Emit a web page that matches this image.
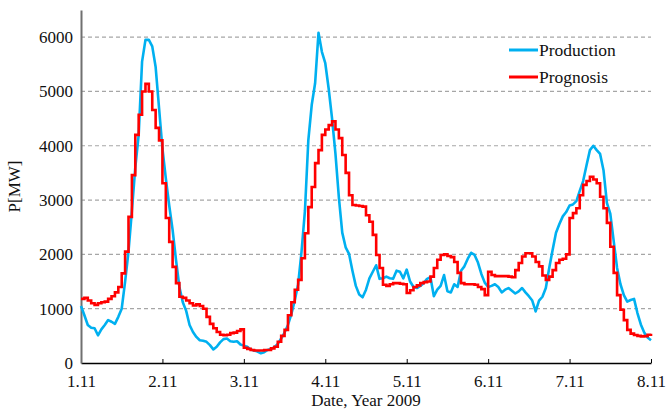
<!DOCTYPE html>
<html>
<head>
<meta charset="utf-8">
<script src="https://cdn.jsdelivr.net/npm/d3@7"></script>
<style>
  body { margin: 0; background: #fff; }
  text { font-family: "Liberation Serif", "Times New Roman", serif; }
</style>
</head>
<body>
<div id="chart"></div>
<script>
const width = 666;
const height = 409;
const margin = { top: 10, right: 15, bottom: 46, left: 81 };

// hourly values in MW, 1.11.2009 00:00 -> 8.11.2009 00:00
const production = [
  1050, 880, 700, 650, 640, 510, 620, 700, 790, 760, 720, 850, 1000, 1500, 2050, 2800, 3600, 4200, 5550, 5950, 5950, 5830, 5450, 4700,
  3950, 3400, 2900, 2450, 1900, 1400, 1120, 960, 700, 570, 480, 420, 410, 390, 330, 250, 300, 380, 440, 450, 400, 390, 400, 340,
  320, 300, 250, 230, 210, 180, 200, 240, 260, 290, 350, 450, 560, 700, 900, 1150, 1450, 2050, 2800, 4100, 4750, 5150, 6080, 5730,
  5520, 5050, 4500, 3850, 3050, 2400, 2130, 2010, 1700, 1420, 1260, 1210, 1350, 1560, 1680, 1800, 1550, 1560, 1590, 1560, 1550, 1700, 1680, 1560,
  1720, 1500, 1400, 1380, 1420, 1470, 1550, 1580, 1230, 1350, 1420, 1620, 1320, 1300, 1450, 1400, 1700, 1780, 1920, 2030, 1990, 1850, 1640, 1480,
  1400, 1420, 1450, 1400, 1300, 1350, 1380, 1330, 1280, 1320, 1380, 1300, 1230, 1150, 950, 1150, 1220, 1380, 1750, 2080, 2400, 2560, 2700, 2780,
  2900, 2920, 2980, 3170, 3350, 3640, 3920, 4000, 3920, 3850, 3550, 2950, 2750, 2250, 1750, 1450, 1250, 1130, 1160, 1180, 920, 710, 560, 470, 420
];

const prognosis = [
  1180, 1200, 1150, 1100, 1070, 1100, 1120, 1130, 1180, 1230, 1300, 1400, 1650, 2050, 2690, 3460, 4200, 4570, 5000, 5140, 5000, 4660, 4330, 4100,
  3310, 2670, 2230, 1770, 1470, 1220, 1200, 1150, 1100, 1060, 1080, 1050, 1000, 850, 720, 640, 570, 520, 510, 520, 550, 560, 590, 620,
  280, 260, 240, 230, 230, 230, 240, 240, 270, 300, 390, 500, 610, 880, 1120, 1350, 1530, 1930, 2390, 2870, 3240, 3680, 3920, 4200,
  4300, 4380, 4450, 4300, 4140, 3830, 3500, 3090, 2910, 2900, 2890, 2880, 2720, 2600, 2360, 1990, 1750, 1440, 1420, 1450, 1470, 1470, 1460, 1450,
  1290, 1340, 1400, 1430, 1470, 1490, 1500, 1590, 1750, 1900, 1990, 2000, 1970, 1950, 1860, 1660, 1470, 1450, 1450, 1450, 1440, 1400, 1360, 1250,
  1680, 1620, 1600, 1600, 1600, 1600, 1590, 1580, 1710, 1840, 1960, 2020, 2020, 1960, 1860, 1780, 1610, 1530, 1590, 1710, 1840, 1900, 1920, 2000,
  2670, 2760, 2850, 3090, 3280, 3350, 3430, 3380, 3310, 3060, 2850, 2580, 2140, 1660, 1250, 980, 790, 610, 540, 515, 500, 490, 495, 520, 540
];

const yTicks = [0, 1000, 2000, 3000, 4000, 5000, 6000];
const seriesNames = ["Production", "Prognosis"];
const seriesColors = ["#00b0f0", "#ff0000"];

const start = Date.UTC(2009, 10, 1);
const hour = 3600 * 1000;

const svg = d3
  .select("#chart")
  .append("svg")
  .attr("width", width)
  .attr("height", height);

const xScale = d3
  .scaleUtc()
  .domain([new Date(start), new Date(start + 168 * hour)])
  .range([margin.left, width - margin.right]);

const yScale = d3
  .scaleLinear()
  .domain([0, 6500])
  .range([height - margin.bottom, margin.top]);

// grid
svg
  .append("g")
  .selectAll("line")
  .data(yTicks.slice(1))
  .enter()
  .append("line")
  .attr("x1", margin.left)
  .attr("x2", width - margin.right)
  .attr("y1", (d) => yScale(d))
  .attr("y2", (d) => yScale(d))
  .attr("stroke", "#a6a6a6")
  .attr("stroke-width", 1.2)
  .attr("stroke-dasharray", "4,3");

const xAxis = d3
  .axisBottom(xScale)
  .ticks(d3.utcDay.every(1))
  .tickFormat(d3.utcFormat("%-d.%m"))
  .tickSizeInner(-4)
  .tickSizeOuter(0)
  .tickPadding(12);

const gx = svg
  .append("g")
  .attr("transform", "translate(0," + (height - margin.bottom) + ")")
  .call(xAxis);
gx.select(".domain").attr("stroke", "#000").attr("stroke-width", 1.3);
gx.selectAll(".tick line").attr("stroke", "#000");
gx.selectAll("text")
  .attr("fill", "#111")
  .style("font-size", "17px")
  .style("font-family", "Liberation Serif, serif");

const yAxis = d3
  .axisLeft(yScale)
  .tickValues(yTicks)
  .tickSize(0)
  .tickPadding(8)
  .tickFormat(d3.format("d"));

const gy = svg
  .append("g")
  .attr("transform", "translate(" + margin.left + ",0)")
  .call(yAxis);
gy.select(".domain").attr("stroke", "#707070").attr("stroke-width", 2);
gy.selectAll("text")
  .attr("fill", "#111")
  .style("font-size", "17px")
  .style("font-family", "Liberation Serif, serif");

// lines
const prodLine = d3
  .line()
  .x((d, i) => xScale(new Date(start + i * hour)))
  .y((d) => yScale(d));

const progLine = d3
  .line()
  .curve(d3.curveStepAfter)
  .x((d, i) => xScale(new Date(start + i * hour)))
  .y((d) => yScale(d));

svg
  .append("path")
  .datum(production)
  .attr("fill", "none")
  .attr("stroke", seriesColors[0])
  .attr("stroke-width", 2.6)
  .attr("stroke-linejoin", "round")
  .attr("d", prodLine);

svg
  .append("path")
  .datum(prognosis)
  .attr("fill", "none")
  .attr("stroke", seriesColors[1])
  .attr("stroke-width", 2.6)
  .attr("d", progLine);

// legend
const legend = svg
  .selectAll(".legend")
  .data(seriesNames)
  .enter()
  .append("g")
  .attr("class", "legend")
  .attr("transform", (d, i) => "translate(509," + (50 + i * 27) + ")");

legend
  .append("line")
  .attr("x1", 0)
  .attr("x2", 29)
  .attr("stroke", (d, i) => seriesColors[i])
  .attr("stroke-width", 3);

legend
  .append("text")
  .attr("x", 30)
  .attr("y", 5.5)
  .style("font-size", "17.5px")
  .attr("fill", "#111")
  .text((d) => d);

// axis titles
svg
  .append("text")
  .attr("x", (margin.left + width - margin.right) / 2)
  .attr("y", 406)
  .attr("text-anchor", "middle")
  .style("font-size", "17px")
  .attr("fill", "#111")
  .text("Date, Year 2009");

svg
  .append("text")
  .attr("transform", "translate(20," + (height - margin.bottom + margin.top) / 2 + ") rotate(-90)")
  .attr("text-anchor", "middle")
  .style("font-size", "17px")
  .attr("fill", "#111")
  .text("P[MW]");
</script>
</body>
</html>
